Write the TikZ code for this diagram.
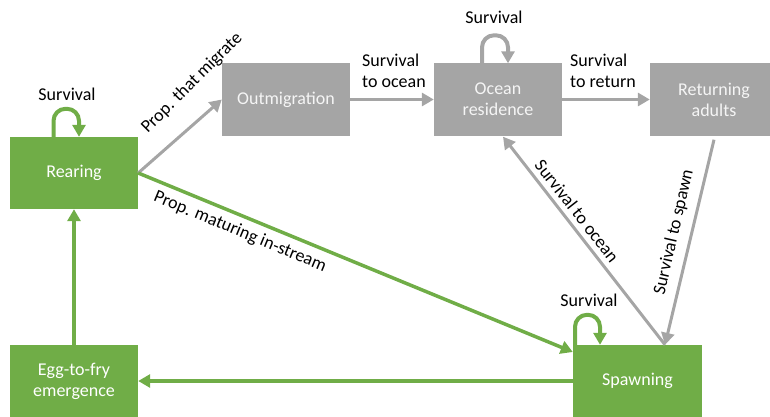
\documentclass[tikz,border=0pt]{standalone}
\usepackage{fontspec}
\setmainfont{Carlito}
\usetikzlibrary{arrows.meta,calc}
\definecolor{leafgreen}{HTML}{70AD47}
\definecolor{stonegray}{HTML}{A5A5A5}
\begin{document}
\begin{tikzpicture}[x=1pt,y=-1pt,
  box/.style={minimum width=128pt,minimum height=72pt,inner sep=0pt,align=center,
    font=\fontsize{18}{21}\selectfont},
  greenbox/.style={box,fill=leafgreen,text=white},
  graybox/.style={box,fill=stonegray,text=white!96!black},
  lbl/.style={font=\fontsize{18}{20.5}\selectfont,inner sep=0pt,text=black},
  tip/.style={-{Triangle[length=12pt,width=13pt]}},
  greenarrow/.style={tip,draw=leafgreen,line width=3.5pt},
  grayarrow/.style={tip,draw=stonegray,line width=3pt},
  selfloop/.style={tip,line width=4pt,rounded corners=12pt},
]
\useasboundingbox (0,0) rectangle (770,417);
\clip (0,0) rectangle (770,417);

% life-stage boxes
\node[greenbox] (rear)  at (74,173)    {Rearing};
\node[greenbox] (egg)   at (74,381)    {Egg-to-fry\\emergence};
\node[graybox]  (out)   at (286,99.5)  {Outmigration};
\node[graybox]  (ocean) at (498,99.5)  {Ocean\\residence};
\node[graybox]  (ret)   at (714,99.5)  {Returning\\adults};
\node[greenbox,minimum width=129pt] (spawn) at (637.5,381) {Spawning};

% transitions between stages
\draw[grayarrow] (rear.east) -- (out.west);
\draw[grayarrow] (out.east) -- (ocean.west);
\draw[grayarrow] (ocean.east) -- (ret.west);
\draw[grayarrow] ([yshift=-4pt]ret.south) -- ([xshift=27.5pt]spawn.north);
\draw[grayarrow] ([xshift=27.5pt]spawn.north) -- ([xshift=5pt,yshift=-1pt]ocean.south);
\draw[greenarrow] (rear.east) -- ([yshift=29pt]spawn.west);
\draw[greenarrow] (spawn.west) -- (egg.east);
\draw[greenarrow] (egg.north) -- (rear.south);

% survival self-loops
\draw[selfloop,draw=leafgreen] ([xshift=-20.5pt]rear.north) -- ++(0,-28) -- ++(25.5,0) -- ++(0,28);
\draw[selfloop,draw=stonegray] ([xshift=-16pt]ocean.north) -- ++(0,-28) -- ++(26,0) -- ++(0,28);
\draw[selfloop,draw=leafgreen] ([xshift=-62.5pt]spawn.north) -- ++(0,-30) -- ++(25,0) -- ++(0,30);

% transition labels
\node[lbl,anchor=base] (srear)  at (67,100) {Survival};
\node[lbl,anchor=base] (socean) at (494,24) {Survival};
\node[lbl,anchor=base] (sspawn) at (589,306) {Survival};
\node[lbl,align=left,anchor=west] (toocean)  at (362,71) {Survival\\to ocean};
\node[lbl,align=left,anchor=west] (toreturn) at (570,71) {Survival\\to return};
\node[lbl,rotate=45]    (migrate) at (192,83)  {Prop. that migrate};
\node[lbl,rotate=-22.5] (mature)  at (240,232) {Prop. maturing in-stream};
\node[lbl,rotate=-52]   (back)    at (577,211) {Survival to ocean};
\node[lbl,rotate=77]    (tospawn) at (674,232) {Survival to spawn};
\end{tikzpicture}
\end{document}
